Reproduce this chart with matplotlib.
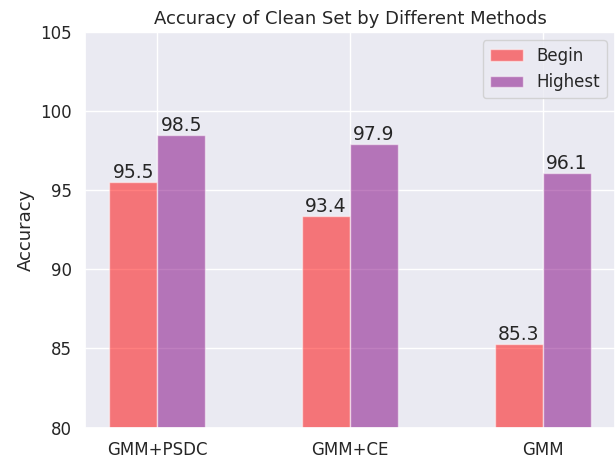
import matplotlib
matplotlib.use("Agg")
import matplotlib.pyplot as plt
import seaborn as sns
import numpy as np

methods = ["GMM+PSDC", "GMM+CE", "GMM"]
begin = [95.5, 93.4, 85.3]
highest = [98.5, 97.9, 96.1]

sns.set_theme(style="darkgrid")
plt.rcParams['font.family'] = ['DejaVu Sans']

fig = plt.figure(figsize=(6.15, 4.58), dpi=100)
ax = fig.add_axes([85/615, 30.5/458, 530/615, 395.5/458])

x = np.arange(len(methods))
w = 0.25
b1 = ax.bar(x - w/2, begin, w, color="red", alpha=0.5, label="Begin")
b2 = ax.bar(x + w/2, highest, w, color="purple", alpha=0.5, label="Highest")
for bars, vals in ((b1, begin), (b2, highest)):
    for r, v in zip(bars, vals):
        ax.text(r.get_x() + r.get_width()/2, v, f"{v}", ha="center", va="bottom", fontsize=13.5, color="#262626")

ax.set_ylim(80, 105)
ax.set_yticks([80, 85, 90, 95, 100, 105])
ax.set_xticks(x)
ax.set_xticklabels(methods)
ax.tick_params(labelsize=12)
ax.set_ylabel("Accuracy", fontsize=13)
ax.set_title("Accuracy of Clean Set by Different Methods", fontsize=13)
ax.legend(loc="upper right", fontsize=12)

fig.savefig("out.png", dpi=100)
